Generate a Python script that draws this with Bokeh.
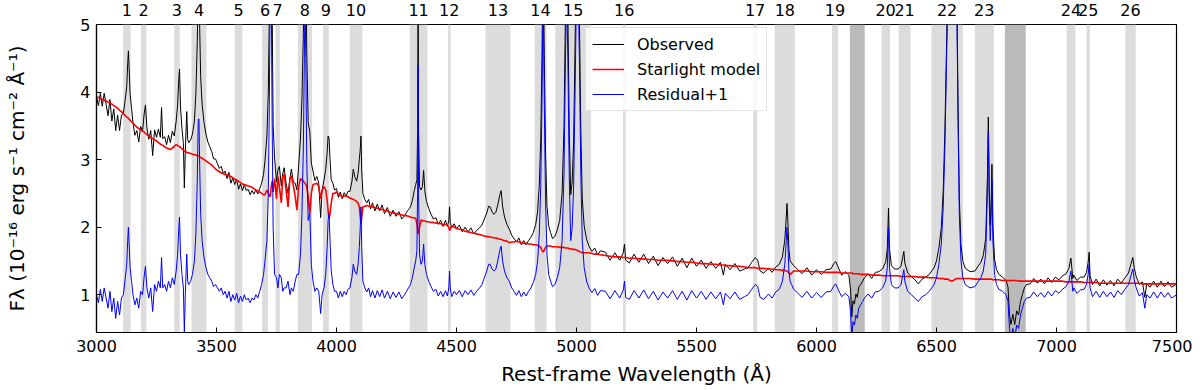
import numpy as np
from bokeh.plotting import figure
from bokeh.models import LinearAxis, FixedTicker, Range1d, Legend, LegendItem
from bokeh.embed import file_html
from bokeh.resources import INLINE

# ---------------- data ----------------
band_start = [3111, 3185, 3324, 3396, 3576, 3690, 3746, 3839, 3944, 4055, 4305, 4465, 4621,
              4826, 4912, 5194, 5736, 5826, 6065, 6271, 6342, 6479, 6660, 7042, 7125, 7287]
band_end = [3142, 3208, 3347, 3458, 3608, 3715, 3764, 3898, 3968, 4108, 4379, 4476, 4725,
            4875, 5060, 5205, 5753, 5910, 6090, 6306, 6392, 6610, 6739, 7079, 7139, 7330]
band_label = ["1", "2", "3", "4", "5", "6", "7", "8", "9", "10", "11", "12", "13",
              "14", "15", "16", "17", "18", "19", "20", "21", "22", "23", "24", "25", "26"]
telluric_start = [6139, 6785]
telluric_end = [6201, 6872]

x_ticks = [3000, 3500, 4000, 4500, 5000, 5500, 6000, 6500, 7000, 7500]
y_ticks = [1, 2, 3, 4, 5]

# spectrum segments: wavelength, Starlight model, residual+1 (observed = model + residual)
wl_a = [3000, 3008, 3016, 3024, 3032, 3040, 3048, 3056, 3064, 3072, 3080, 3088, 3096, 3104, 3112, 3120,
        3126, 3130, 3133, 3136, 3140, 3146, 3152, 3160, 3168, 3176, 3184, 3192,
        3198, 3204, 3210, 3218, 3226, 3234, 3242, 3250, 3258, 3266,
        3271, 3276, 3284, 3292, 3300, 3308, 3316, 3324, 3332, 3338,
        3343, 3346, 3350, 3356, 3362, 3366, 3370, 3376, 3380, 3384,
        3392, 3400, 3408, 3414, 3420, 3424, 3427, 3430, 3434, 3440,
        3448, 3456, 3464, 3472, 3480, 3488, 3496]
model_a = [3.93, 3.92, 3.90, 3.89, 3.88, 3.87, 3.85, 3.84, 3.82, 3.80, 3.78, 3.76, 3.73, 3.71, 3.68, 3.65,
           3.63, 3.62, 3.61, 3.60, 3.58, 3.56, 3.54, 3.51, 3.48, 3.46, 3.44, 3.42,
           3.41, 3.39, 3.37, 3.35, 3.33, 3.31, 3.29, 3.28, 3.25, 3.23,
           3.22, 3.21, 3.19, 3.17, 3.16, 3.15, 3.17, 3.20, 3.22, 3.21,
           3.20, 3.19, 3.18, 3.16, 3.14, 3.13, 3.12, 3.11, 3.10, 3.10,
           3.09, 3.08, 3.07, 3.07, 3.06, 3.05, 3.05, 3.04, 3.03, 3.02,
           3.00, 2.98, 2.96, 2.94, 2.92, 2.89, 2.86]
resid_a = [1.00, 0.88, 1.08, 0.90, 1.10, 0.95, 0.80, 1.05, 0.75, 0.95, 0.65, 0.90, 0.70, 0.95, 1.00, 1.25,
           1.45, 1.80, 2.00, 1.75, 1.40, 1.20, 1.00, 0.85, 0.95, 0.80, 1.05, 1.00,
           1.25, 1.42, 1.10, 0.95, 1.10, 0.75, 1.15, 1.05, 1.20, 1.10,
           1.55, 1.10, 1.15, 1.05, 1.20, 1.10, 1.25, 1.15, 1.35, 1.60,
           2.00, 2.15, 1.60, 1.30, 1.10, 0.45, 1.00, 1.60, 1.20, 1.15,
           1.20, 1.30, 1.50, 1.90, 2.70, 3.60, 3.60, 2.90, 2.20, 1.80,
           1.55, 1.40, 1.30, 1.25, 1.20, 1.12, 1.15]

wl_b = [3504, 3512, 3520, 3528, 3536, 3544, 3552, 3560, 3568, 3576, 3584, 3592, 3600, 3608, 3616, 3624,
        3632, 3640, 3648, 3656, 3664, 3672, 3680, 3688, 3696]
model_b = [2.84, 2.82, 2.80, 2.79, 2.78, 2.77, 2.76, 2.75, 2.73, 2.71, 2.69, 2.68, 2.66, 2.64, 2.63, 2.62,
           2.61, 2.60, 2.59, 2.57, 2.55, 2.54, 2.52, 2.50, 2.48]
resid_b = [1.10, 1.05, 1.10, 1.00, 1.05, 0.95, 1.05, 0.90, 1.00, 0.92, 1.02, 0.88, 0.98, 0.90, 1.00, 0.92,
           0.95, 0.88, 0.95, 0.92, 1.00, 0.95, 1.05, 1.15, 1.30]

wl_c = [3702, 3710, 3716, 3720, 3724, 3728, 3732, 3736, 3742, 3750,
        3756, 3762, 3770, 3776, 3782, 3790, 3798, 3806, 3812, 3820,
        3828, 3835, 3842, 3850, 3856, 3862, 3866, 3869, 3872, 3876,
        3882, 3889, 3895, 3902, 3910, 3918, 3926, 3934, 3940, 3948,
        3955, 3961, 3965, 3969, 3973, 3978, 3985, 3992, 4000]
model_c = [2.48, 2.55, 2.50, 2.47, 2.45, 2.60, 2.68, 2.52, 2.72, 2.42,
           2.75, 2.60, 2.36, 2.74, 2.78, 2.55, 2.30, 2.72, 2.76, 2.62,
           2.45, 2.25, 2.60, 2.72, 2.70, 2.68, 2.66, 2.65, 2.63, 2.60,
           2.45, 2.20, 2.50, 2.63, 2.64, 2.65, 2.60, 2.42, 2.55, 2.60,
           2.55, 2.40, 2.25, 2.12, 2.20, 2.35, 2.50, 2.50, 2.52]
resid_c = [1.50, 1.80, 2.50, 3.80, 5.50, 5.50, 3.50, 2.00, 1.30, 1.25,
           1.10, 1.30, 1.25, 1.05, 1.10, 1.10, 1.20, 1.00, 1.10, 1.05,
           1.20, 1.30, 1.30, 1.60, 2.20, 3.20, 4.50, 5.50, 4.50, 3.00,
           2.10, 2.20, 1.45, 1.20, 1.05, 1.10, 1.05, 0.72, 1.00, 1.10,
           1.30, 1.70, 2.10, 2.20, 1.80, 1.35, 1.15, 1.05, 1.05]

wl_d = [4008, 4016, 4024, 4032, 4040, 4048, 4056, 4064, 4070, 4076, 4084, 4090, 4095, 4099, 4102, 4105,
        4110, 4118, 4126, 4134, 4142, 4150, 4160, 4170, 4180, 4190, 4200, 4212, 4224, 4236, 4248, 4260,
        4272, 4284, 4292, 4300]
model_d = [2.49, 2.47, 2.45, 2.46, 2.46, 2.45, 2.43, 2.42, 2.41, 2.40, 2.38, 2.35, 2.30, 2.15, 2.05, 2.15,
           2.30, 2.31, 2.32, 2.31, 2.30, 2.30, 2.29, 2.28, 2.27, 2.26, 2.25, 2.24, 2.22, 2.21, 2.20, 2.19,
           2.18, 2.17, 2.17, 2.16]
resid_d = [0.95, 1.05, 0.97, 1.05, 1.00, 1.08, 1.10, 1.25, 1.45, 1.35, 1.30, 1.45, 1.70, 2.00, 2.30, 1.70,
           1.20, 1.10, 1.04, 1.10, 0.97, 1.06, 0.95, 1.06, 0.97, 1.07, 0.95, 1.05, 0.94, 1.04, 0.96, 1.04,
           0.94, 1.00, 1.05, 1.10]

wl_e = [4308, 4316, 4324, 4330, 4335, 4338, 4340, 4342, 4346, 4352, 4358, 4363, 4368, 4375, 4384, 4394,
        4404, 4414, 4424, 4434, 4444, 4454, 4462, 4468, 4471, 4474, 4480, 4490, 4500]
model_e = [2.15, 2.14, 2.14, 2.13, 2.05, 1.95, 1.90, 1.92, 2.00, 2.10, 2.10, 2.09, 2.09, 2.08, 2.08, 2.07,
           2.07, 2.06, 2.06, 2.05, 2.04, 2.04, 2.03, 2.00, 1.95, 1.97, 2.02, 2.00, 1.98]
resid_e = [1.15, 1.25, 1.40, 1.50, 1.65, 2.50, 4.40, 2.50, 1.60, 1.45, 1.50, 1.75, 1.45, 1.30, 1.20, 1.12,
           1.05, 1.08, 0.98, 1.05, 0.97, 1.06, 0.98, 1.10, 1.35, 1.10, 0.97, 1.05, 1.00]

wl_f = [4512, 4524, 4536, 4548, 4560, 4572, 4584, 4596, 4606, 4616, 4626, 4634, 4640, 4648, 4656, 4664,
        4672, 4680, 4686, 4692, 4700, 4710, 4720, 4730, 4740, 4750, 4760, 4770, 4780, 4790, 4800]
model_f = [1.97, 1.96, 1.94, 1.93, 1.92, 1.91, 1.90, 1.89, 1.88, 1.87, 1.86, 1.86, 1.85, 1.85, 1.84, 1.84,
           1.83, 1.82, 1.82, 1.81, 1.80, 1.79, 1.77, 1.78, 1.78, 1.79, 1.78, 1.77, 1.76, 1.76, 1.75]
resid_f = [1.06, 0.97, 1.06, 1.00, 1.07, 0.99, 1.05, 1.10, 1.15, 1.25, 1.35, 1.45, 1.45, 1.38, 1.35, 1.38,
           1.50, 1.65, 1.72, 1.50, 1.35, 1.25, 1.20, 1.10, 1.05, 0.99, 1.06, 0.97, 1.04, 0.98, 1.05]

wl_g = [4810, 4820, 4830, 4838, 4845, 4851, 4856, 4861, 4866, 4871, 4877, 4884, 4892, 4900, 4910, 4920,
        4930, 4940, 4948, 4954, 4959, 4964, 4970, 4976, 4982, 4988, 4994, 5000, 5007, 5012, 5018, 5024,
        5032, 5042, 5052, 5064, 5076, 5088, 5100]
model_g = [1.75, 1.74, 1.74, 1.73, 1.72, 1.70, 1.66, 1.63, 1.66, 1.70, 1.72, 1.72, 1.72, 1.71, 1.71, 1.71,
           1.70, 1.70, 1.70, 1.69, 1.69, 1.69, 1.68, 1.68, 1.67, 1.67, 1.67, 1.66, 1.65, 1.64, 1.63, 1.62,
           1.62, 1.62, 1.62, 1.61, 1.60, 1.60, 1.59]
resid_g = [1.10, 1.18, 1.30, 1.50, 1.90, 2.60, 3.80, 5.50, 3.80, 2.40, 1.60, 1.30, 1.20, 1.12, 1.15, 1.25,
           1.40, 1.80, 2.80, 4.50, 5.50, 4.50, 2.70, 1.80, 2.00, 2.60, 4.00, 5.50, 5.50, 4.50, 2.80, 1.80,
           1.40, 1.20, 1.10, 1.03, 1.09, 0.99, 1.06]

wl_h = [5120, 5140, 5160, 5180, 5195, 5200, 5205, 5220, 5240, 5260, 5280, 5300, 5320, 5340, 5360, 5380,
        5400, 5420, 5440, 5460, 5480, 5500, 5520, 5540, 5560, 5580, 5600, 5612, 5620, 5640, 5660, 5680, 5700]
model_h = [1.58, 1.57, 1.56, 1.56, 1.55, 1.55, 1.55, 1.54, 1.54, 1.53, 1.53, 1.52, 1.52, 1.51, 1.51, 1.51,
           1.50, 1.49, 1.49, 1.48, 1.48, 1.47, 1.46, 1.46, 1.45, 1.45, 1.44, 1.44, 1.43, 1.43, 1.42, 1.42, 1.41]
resid_h = [1.05, 0.94, 1.06, 0.95, 1.07, 1.20, 0.96, 0.93, 1.06, 0.95, 1.07, 0.94, 1.05, 0.92, 1.04, 0.95,
           1.06, 0.93, 1.05, 0.92, 1.06, 0.95, 1.05, 0.93, 1.04, 0.94, 1.04, 0.85, 1.02, 0.94, 1.04, 0.93, 0.97]

wl_i = [5715, 5730, 5745, 5755, 5765, 5780, 5800, 5815, 5830, 5845,
        5858, 5868, 5874, 5877, 5880, 5885, 5890, 5896, 5905, 5920,
        5940, 5960, 5980, 6000, 6020, 6040, 6060, 6072, 6080, 6090,
        6105, 6120, 6135, 6142, 6147, 6152, 6158, 6164, 6170, 6176,
        6184, 6192, 6200, 6215, 6230, 6245, 6260, 6275, 6288, 6295,
        6300, 6304, 6312, 6325, 6340, 6352, 6360, 6364, 6368, 6380,
        6395, 6410, 6424, 6440, 6455, 6470, 6480]
model_i = [1.40, 1.40, 1.40, 1.39, 1.39, 1.39, 1.38, 1.38, 1.37, 1.37,
           1.36, 1.36, 1.35, 1.35, 1.34, 1.32, 1.30, 1.32, 1.35, 1.35,
           1.35, 1.35, 1.34, 1.34, 1.34, 1.33, 1.33, 1.33, 1.33, 1.33,
           1.32, 1.32, 1.32, 1.32, 1.32, 1.31, 1.31, 1.31, 1.31, 1.31,
           1.30, 1.30, 1.30, 1.30, 1.29, 1.29, 1.29, 1.28, 1.28, 1.28,
           1.28, 1.28, 1.28, 1.28, 1.28, 1.27, 1.27, 1.27, 1.27, 1.27,
           1.27, 1.27, 1.26, 1.26, 1.26, 1.25, 1.25]
resid_i = [1.00, 1.08, 1.15, 1.12, 0.96, 0.93, 1.01, 0.95, 1.04, 1.08,
           1.20, 1.45, 1.80, 2.00, 1.80, 1.35, 1.20, 1.15, 1.08, 1.03,
           0.96, 1.05, 0.95, 1.03, 0.96, 1.04, 1.05, 1.13, 1.16, 1.08,
           0.97, 1.02, 0.97, 0.75, 0.35, 0.60, 0.55, 0.70, 0.65, 0.80,
           0.85, 0.90, 0.95, 1.01, 0.95, 1.04, 1.05, 1.10, 1.20, 1.40,
           2.00, 1.40, 1.15, 1.10, 1.10, 1.15, 1.30, 1.37, 1.20, 1.05,
           1.00, 0.95, 0.90, 0.97, 1.00, 1.05, 1.10]

wl_j = [6490, 6500, 6510, 6520, 6528, 6535, 6542, 6548, 6556, 6563, 6570, 6578, 6584, 6590, 6595, 6602,
        6610, 6620, 6640, 6660, 6675, 6685, 6695, 6705, 6712, 6716, 6720, 6724, 6728, 6731, 6735, 6742,
        6750, 6760, 6775, 6790]
model_j = [1.25, 1.25, 1.24, 1.24, 1.24, 1.23, 1.23, 1.23, 1.21, 1.20, 1.21, 1.23, 1.24, 1.24, 1.24, 1.24,
           1.24, 1.24, 1.24, 1.23, 1.23, 1.23, 1.23, 1.23, 1.23, 1.23, 1.23, 1.23, 1.23, 1.23, 1.22, 1.22,
           1.22, 1.22, 1.21, 1.21]
resid_j = [1.15, 1.25, 1.45, 1.75, 2.30, 3.20, 4.50, 5.50, 5.50, 5.80, 5.50, 5.50, 5.50, 3.50, 2.20, 1.50,
           1.25, 1.15, 1.10, 1.12, 1.20, 1.25, 1.35, 1.60, 2.50, 3.40, 2.30, 1.80, 2.20, 2.70, 1.80, 1.30,
           1.15, 1.08, 1.05, 1.00]

wl_k = [6798, 6804, 6810, 6818, 6826, 6834, 6842, 6850, 6858, 6866,
        6875, 6890, 6905, 6920, 6935, 6950, 6965, 6980, 6995, 7010,
        7025, 7040, 7052, 7060, 7064, 7068, 7072, 7085, 7100, 7115,
        7125, 7132, 7136, 7140, 7150, 7165, 7180, 7195, 7210, 7225,
        7240, 7255, 7270, 7285, 7300, 7310, 7318, 7324, 7332, 7345,
        7358, 7368, 7376, 7390, 7405, 7420, 7435, 7450, 7465, 7480, 7500]
model_k = [1.21, 1.21, 1.21, 1.21, 1.21, 1.21, 1.20, 1.20, 1.20, 1.20,
           1.20, 1.20, 1.20, 1.20, 1.20, 1.20, 1.20, 1.20, 1.20, 1.20,
           1.20, 1.19, 1.19, 1.19, 1.19, 1.19, 1.19, 1.19, 1.19, 1.18,
           1.18, 1.18, 1.18, 1.18, 1.18, 1.18, 1.17, 1.17, 1.17, 1.17,
           1.17, 1.17, 1.17, 1.17, 1.17, 1.17, 1.17, 1.17, 1.17, 1.17,
           1.16, 1.16, 1.16, 1.16, 1.16, 1.16, 1.16, 1.16, 1.16, 1.16, 1.16]
resid_k = [0.90, 0.50, 0.35, 0.50, 0.35, 0.55, 0.50, 0.70, 0.80, 0.90,
           0.95, 0.96, 1.04, 0.97, 1.03, 0.96, 1.05, 0.98, 1.06, 1.02,
           1.08, 1.12, 1.20, 1.35, 1.20, 1.05, 1.10, 1.02, 1.07, 1.08,
           1.15, 1.30, 1.45, 1.10, 0.97, 1.05, 0.96, 1.05, 0.97, 1.04,
           0.96, 1.06, 1.00, 1.08, 1.15, 1.28, 1.38, 1.22, 1.10, 0.98,
           1.03, 0.80, 1.00, 0.95, 1.04, 0.95, 1.04, 0.96, 1.03, 0.95, 1.00]

segments = [(wl_a, model_a, resid_a), (wl_b, model_b, resid_b), (wl_c, model_c, resid_c),
            (wl_d, model_d, resid_d), (wl_e, model_e, resid_e), (wl_f, model_f, resid_f),
            (wl_g, model_g, resid_g), (wl_h, model_h, resid_h), (wl_i, model_i, resid_i),
            (wl_j, model_j, resid_j), (wl_k, model_k, resid_k)]
for w, m, r in segments:
    assert len(w) == len(m) == len(r), (w[0], len(w), len(m), len(r))

wl = np.concatenate([s[0] for s in segments]).astype(float)
model = np.concatenate([s[1] for s in segments]).astype(float)
resid = np.concatenate([s[2] for s in segments]).astype(float)
observed = model + resid - 1.0

# ---------------- figure ----------------
FONT = "DejaVu Sans"
y_lo, y_hi = 0.44, 5.0

p = figure(width=1192, height=388, x_range=Range1d(3000, 7500), y_range=Range1d(y_lo, y_hi),
           output_backend="svg", toolbar_location=None,
           min_border_left=96, min_border_right=16, min_border_top=24, min_border_bottom=54)
p.xgrid.visible = False
p.ygrid.visible = False
p.outline_line_color = "black"
p.outline_line_width = 1.2
p.background_fill_color = "white"
p.border_fill_color = "white"

# shaded windows
p.quad(left=band_start, right=band_end, bottom=y_lo, top=y_hi,
       fill_color="#dcdcdc", line_color=None)
p.quad(left=telluric_start, right=telluric_end, bottom=y_lo, top=y_hi,
       fill_color="#bababa", line_color=None)

r_obs = p.line(wl, observed, line_color="black", line_width=1)
r_mod = p.line(wl, model, line_color="red", line_width=1.6)
r_res = p.line(wl, resid, line_color="blue", line_width=1)

# axes
p.xaxis.ticker = FixedTicker(ticks=x_ticks)
p.yaxis.ticker = FixedTicker(ticks=y_ticks)
for ax in (p.xaxis[0], p.yaxis[0]):
    ax.major_tick_out = 0
    ax.major_tick_in = 5
    ax.minor_tick_out = 0
    ax.minor_tick_in = 0
    ax.axis_line_color = "black"
    ax.axis_line_width = 1.2
    ax.major_label_text_font = FONT
    ax.major_label_text_font_size = "16px"
    ax.major_label_text_color = "black"
    ax.axis_label_text_font = FONT
    ax.axis_label_text_font_style = "normal"
    ax.axis_label_text_font_size = "20px"
    ax.axis_label_text_color = "black"

p.xaxis.axis_label = "Rest-frame Wavelength (Å)"
p.xaxis.major_label_standoff = 7
p.xaxis.axis_label_standoff = 7
p.yaxis.axis_label = "Fλ (10⁻¹⁶ erg s⁻¹ cm⁻² Å⁻¹)"
p.yaxis.major_label_standoff = 6
p.yaxis.axis_label_standoff = 48

# window numbers on top
centers = [(s + e) // 2 for s, e in zip(band_start, band_end)]
top_axis = LinearAxis(ticker=FixedTicker(ticks=centers),
                      major_label_overrides={c: lab for c, lab in zip(centers, band_label)})
top_axis.axis_line_color = None
top_axis.major_tick_line_color = None
top_axis.minor_tick_line_color = None
top_axis.major_label_standoff = 3
top_axis.major_label_text_font = FONT
top_axis.major_label_text_font_size = "16px"
top_axis.major_label_text_color = "black"
p.add_layout(top_axis, "above")

legend = Legend(items=[LegendItem(label="Observed", renderers=[r_obs]),
                       LegendItem(label="Starlight model", renderers=[r_mod]),
                       LegendItem(label="Residual+1", renderers=[r_res])],
                location=(489, 221))
legend.label_text_font = FONT
legend.label_text_font_size = "16px"
legend.label_text_color = "black"
legend.glyph_width = 32
legend.glyph_height = 20
legend.label_height = 20
legend.label_standoff = 13
legend.spacing = 5
legend.padding = 6
legend.margin = 0
legend.border_line_color = "#cccccc"
legend.border_line_width = 1
legend.background_fill_color = "white"
legend.background_fill_alpha = 0.8
p.add_layout(legend)

open("out.html", "w").write(file_html(p, INLINE))
